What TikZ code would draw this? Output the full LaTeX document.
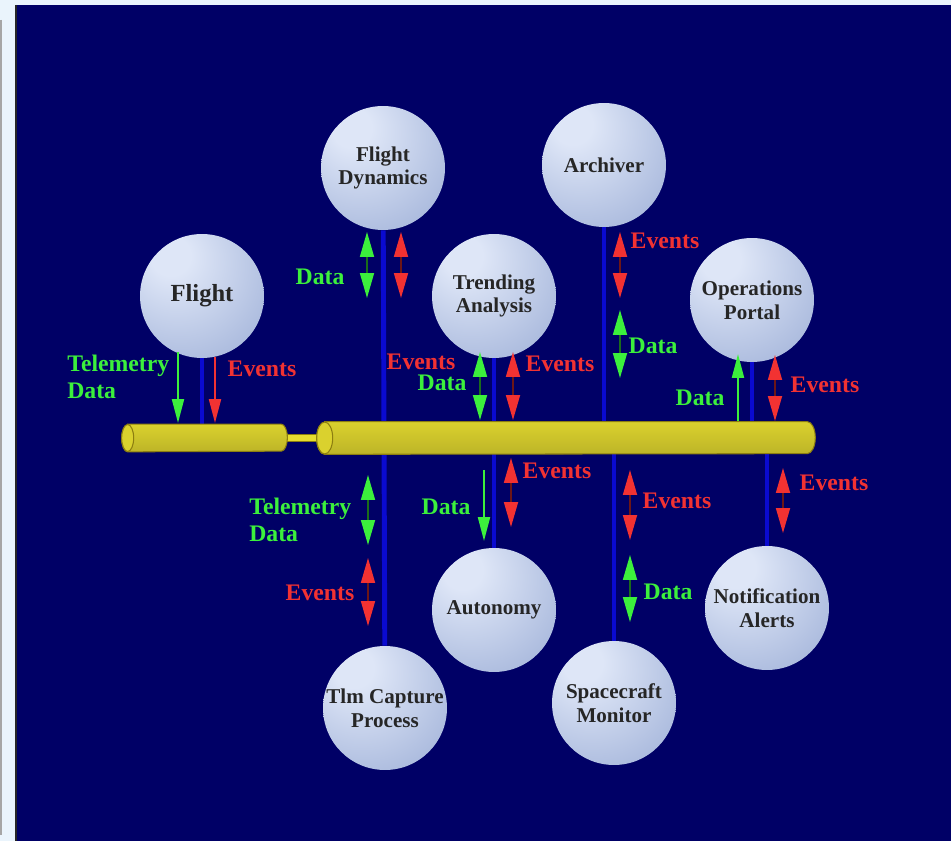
\documentclass[tikz,border=0pt]{standalone}
\usepackage{fontspec}
\setmainfont{Liberation Serif}
\usetikzlibrary{arrows.meta}
\definecolor{navy}{HTML}{000066}
\definecolor{pale}{HTML}{EAF4FC}
\definecolor{wireblue}{HTML}{0A0AD0}
\definecolor{evred}{HTML}{F23232}
\definecolor{dagreen}{HTML}{3CF03C}
\definecolor{busyel}{HTML}{E6DC30}
\definecolor{busdark}{HTML}{8C7E10}
\definecolor{sphedge}{HTML}{6878B6}
\definecolor{sphmid}{HTML}{A8B8DC}
\definecolor{sphhi}{HTML}{DEE6F7}
\pgfdeclareradialshading{sphereshade}{\pgfpoint{-14bp}{18bp}}{color(0bp)=(sphhi); color(8bp)=(sphhi); color(40bp)=(sphmid); color(66bp)=(sphedge); color(80bp)=(sphedge)}
\pgfdeclarelayer{background}
\pgfdeclarelayer{wires}
\pgfsetlayers{background,wires,main}
\tikzstyle{sphere} = [circle, minimum size=2.48cm, inner sep=0pt, shading=sphereshade, align=center, text=black!85, font=\fontsize{12}{13.5}\selectfont\bfseries]
\tikzstyle{busbox} = [rectangle, draw=none, inner sep=0pt]
\tikzstyle{busbody} = [draw=busdark, line width=0.6pt, top color=busyel!95!black, middle color=busyel!85!white, bottom color=busyel!82!black]
\tikzstyle{buscap} = [draw=busdark, line width=0.6pt, fill=busyel!95!black]
\tikzstyle{wire} = [draw=wireblue, line width=2.8pt]
\tikzstyle{pipe} = [draw=busyel, line width=3pt]
\tikzstyle{evlabel} = [text=evred, inner sep=0pt, font=\fontsize{13.5}{15}\selectfont\bfseries]
\tikzstyle{dalabel} = [text=dagreen, inner sep=0pt, align=left, font=\fontsize{13.5}{15.5}\selectfont\bfseries]
\tikzstyle{evboth} = [draw=evred!45!black, line width=1pt, {Triangle[color=evred,width=0.28cm,length=0.5cm]}-{Triangle[color=evred,width=0.28cm,length=0.5cm]}]
\tikzstyle{daboth} = [draw=dagreen!45!black, line width=1pt, {Triangle[color=dagreen,width=0.28cm,length=0.5cm]}-{Triangle[color=dagreen,width=0.28cm,length=0.5cm]}]
\tikzstyle{evone} = [draw=evred, line width=1.2pt, -{Triangle[width=0.24cm,length=0.48cm]}]
\tikzstyle{daone} = [draw=dagreen, line width=1.2pt, -{Triangle[width=0.24cm,length=0.48cm]}]

\begin{document}
\begin{tikzpicture}[x=0.02cm, y=-0.02cm]
    \useasboundingbox (0,0) rectangle (951,841);
    \begin{pgfonlayer}{background}
        \fill [pale] (0,0) rectangle (951,841);
        \fill [navy] (15,5) rectangle (951,841);
        \draw [black!85, line width=1.5pt] (16,5) -- (16,841);
        \draw [black!35, line width=1pt] (1,20) -- (1,835);
    \end{pgfonlayer}

    % the bus
    \node [busbox, minimum width=3.3cm, minimum height=0.54cm, name = busl] at (204.5,438) {};
    \node [busbox, minimum width=9.96cm, minimum height=0.64cm, name = bus] at (566,438) {};
    \path [busbody] ([xshift=0.12cm]busl.north west) -- ([xshift=-0.12cm]busl.north east)
        arc [start angle=90, end angle=-90, x radius=0.12cm, y radius=0.27cm]
        -- ([xshift=0.12cm]busl.south west)
        arc [start angle=270, end angle=90, x radius=0.12cm, y radius=0.27cm] -- cycle;
    \path [buscap] ([xshift=0.12cm]busl.west) ellipse [x radius=0.12cm, y radius=0.27cm];
    \path [busbody] ([xshift=0.16cm]bus.north west) -- ([xshift=-0.16cm]bus.north east)
        arc [start angle=90, end angle=-90, x radius=0.16cm, y radius=0.32cm]
        -- ([xshift=0.16cm]bus.south west)
        arc [start angle=270, end angle=90, x radius=0.16cm, y radius=0.32cm] -- cycle;
    \path [buscap] ([xshift=0.16cm]bus.west) ellipse [x radius=0.16cm, y radius=0.32cm];

    % spheres
    \node [sphere, font=\fontsize{14}{16}\selectfont\bfseries, name = fl] at (202,296) {Flight};
    \node [sphere, name = fd] at (383,168) {Flight\\Dynamics};
    \node [sphere, name = ar] at (604,165) {Archiver};
    \node [sphere, name = ta] at (494,296) {Trending\\Analysis};
    \node [sphere, name = op] at (752,300) {Operations\\Portal};
    \node [sphere, name = au] at (494,610) {Autonomy};
    \node [sphere, name = na] at (767,608) {Notification\\Alerts};
    \node [sphere, name = tlm] at (385,708) {Tlm Capture\\Process};
    \node [sphere, name = sm] at (614,703) {Spacecraft\\Monitor};

    \begin{pgfonlayer}{wires}
        \draw [draw=busdark, line width=4.4pt] (busl) -- (bus);
        \draw [pipe] (busl) -- (bus);
        \draw [wire] (fl) -- (fl |- busl.center);
        \draw [wire] (fd) -- (tlm);
        \draw [wire] (ta) -- (au);
        \draw [wire] (ar) -- (ar |- bus.center);
        \draw [wire] (sm) -- (sm |- bus.center);
        \draw [wire] (op) -- (op |- bus.center);
        \draw [wire] (na) -- (na |- bus.center);
    \end{pgfonlayer}

    % arrow ends
    \coordinate (fl1) at (178,352); \coordinate (fl2) at (178,423);
    \coordinate (fl3) at (215,357); \coordinate (fl4) at (215,423);
    \coordinate (fd1) at (367,232); \coordinate (fd2) at (367,298);
    \coordinate (fd3) at (401,232); \coordinate (fd4) at (401,298);
    \coordinate (ta1) at (480,352); \coordinate (ta2) at (480,420);
    \coordinate (ta3) at (513,352); \coordinate (ta4) at (513,420);
    \coordinate (ar1) at (620,232); \coordinate (ar2) at (620,298);
    \coordinate (ar3) at (620,310); \coordinate (ar4) at (620,378);
    \coordinate (op1) at (738,421); \coordinate (op2) at (738,354);
    \coordinate (op3) at (775,355); \coordinate (op4) at (775,421);
    \coordinate (tl1) at (368,475); \coordinate (tl2) at (368,545);
    \coordinate (tl3) at (368,558); \coordinate (tl4) at (368,626);
    \coordinate (au1) at (484,470); \coordinate (au2) at (484,541);
    \coordinate (au3) at (511,458); \coordinate (au4) at (511,527);
    \coordinate (sm1) at (630,470); \coordinate (sm2) at (630,540);
    \coordinate (sm3) at (630,555); \coordinate (sm4) at (630,622);
    \coordinate (na1) at (783,468); \coordinate (na2) at (783,533);

    \draw [daone] (fl1) -- (fl2);
    \draw [evone] (fl3) -- (fl4);
    \draw [daboth] (fd1) -- (fd2);
    \draw [evboth] (fd3) -- (fd4);
    \draw [daboth] (ta1) -- (ta2);
    \draw [evboth] (ta3) -- (ta4);
    \draw [evboth] (ar1) -- (ar2);
    \draw [daboth] (ar3) -- (ar4);
    \draw [daone] (op1) -- (op2);
    \draw [evboth] (op3) -- (op4);
    \draw [daboth] (tl1) -- (tl2);
    \draw [evboth] (tl3) -- (tl4);
    \draw [daone] (au1) -- (au2);
    \draw [evboth] (au3) -- (au4);
    \draw [evboth] (sm1) -- (sm2);
    \draw [daboth] (sm3) -- (sm4);
    \draw [evboth] (na1) -- (na2);

    % labels
    \node [dalabel, anchor=west, name = flt] at (67,377) {Telemetry\\Data};
    \node [evlabel, name = fle] at (262,369) {Events};
    \node [dalabel, name = fdd] at (320,277) {Data};
    \node [evlabel, name = fde] at (421,362) {Events};
    \node [dalabel, name = tad] at (442,383) {Data};
    \node [evlabel, name = tae] at (560,364) {Events};
    \node [evlabel, name = are] at (665,241) {Events};
    \node [dalabel, name = ard] at (653,346) {Data};
    \node [dalabel, name = opd] at (700,398) {Data};
    \node [evlabel, name = ope] at (825,385) {Events};
    \node [dalabel, anchor=west, name = tlt] at (249,520) {Telemetry\\Data};
    \node [evlabel, name = tle] at (320,593) {Events};
    \node [dalabel, name = aud] at (446,507) {Data};
    \node [evlabel, name = aue] at (557,471) {Events};
    \node [evlabel, name = sme] at (677,501) {Events};
    \node [dalabel, name = smd] at (668,592) {Data};
    \node [evlabel, name = nae] at (834,483) {Events};
\end{tikzpicture}
\end{document}
